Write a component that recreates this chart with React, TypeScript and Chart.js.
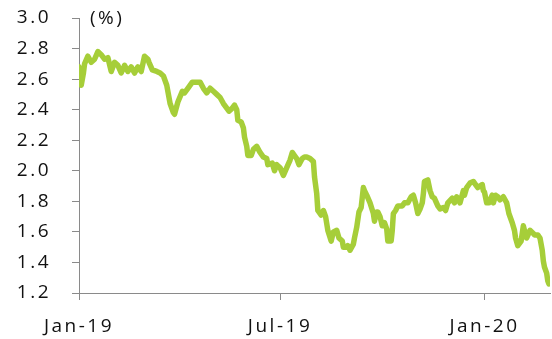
import { useEffect, useRef } from 'react';
import { Chart, registerables } from 'chart.js';

Chart.register(...registerables);

// Days counted from 1 Jan 2019 for each observation
const daysSinceStart = [
  0, 1, 2, 4, 5, 8, 11, 14, 17, 20, 23, 26, 29, 32, 35, 38, 41, 44, 47, 50,
  53, 56, 59, 62, 63, 66, 70, 73, 76, 79, 82, 85, 86, 89, 93, 95, 98, 102, 104, 109,
  112, 115, 118, 121, 124, 127, 130, 133, 135, 138, 140, 142, 143, 146, 148, 149, 151, 152, 155, 157,
  160, 163, 166, 169, 170, 174, 176, 178, 181, 184, 187, 190, 192, 194, 196, 198, 201, 203, 205, 208,
  211, 212, 214, 215, 218, 220, 222, 224, 227, 229, 232, 234, 237, 238, 241, 242, 244, 247, 248, 250,
  252, 254, 256, 257, 259, 262, 265, 266, 268, 269, 271, 273, 275, 277, 278, 281, 282, 283, 285, 287,
  291, 293, 296, 299, 301, 303, 305, 307, 309, 310, 311, 314, 316, 318, 320, 323, 325, 328, 330, 332,
  336, 338, 340, 343, 346, 347, 349, 352, 355, 357, 359, 363, 364, 365, 367, 369, 372, 373, 375, 377,
  379, 382, 385, 387, 390, 392, 393, 395, 398, 400, 401, 403, 406, 409, 410, 413, 415, 417, 418, 419,
  421, 422, 423,
];

// Yield, in percent
const yieldPct = [
  2.68, 2.66, 2.56, 2.64, 2.7, 2.75, 2.71, 2.73, 2.78, 2.76, 2.73, 2.74, 2.65, 2.71, 2.69, 2.64, 2.69, 2.65, 2.68, 2.64,
  2.68, 2.65, 2.75, 2.73, 2.71, 2.66, 2.65, 2.64, 2.62, 2.56, 2.44, 2.38, 2.37, 2.45, 2.52, 2.51, 2.54, 2.58, 2.58, 2.58,
  2.54, 2.51, 2.54, 2.52, 2.5, 2.48, 2.44, 2.41, 2.39, 2.41, 2.43, 2.4, 2.33, 2.32, 2.28, 2.22, 2.16, 2.1, 2.1, 2.14,
  2.16, 2.12, 2.09, 2.08, 2.04, 2.05, 2.0, 2.04, 2.02, 1.97, 2.02, 2.07, 2.12, 2.1, 2.08, 2.04, 2.08, 2.09, 2.09, 2.08,
  2.06, 1.96, 1.85, 1.74, 1.71, 1.74, 1.7, 1.61, 1.54, 1.6, 1.61, 1.56, 1.54, 1.5, 1.5, 1.51, 1.48, 1.52, 1.56, 1.63,
  1.73, 1.76, 1.89, 1.87, 1.84, 1.79, 1.72, 1.67, 1.73, 1.73, 1.7, 1.64, 1.66, 1.62, 1.54, 1.54, 1.61, 1.72, 1.74, 1.77,
  1.77, 1.79, 1.79, 1.83, 1.84, 1.79, 1.72, 1.75, 1.79, 1.85, 1.93, 1.94, 1.87, 1.83, 1.82, 1.77, 1.75, 1.76, 1.74, 1.79,
  1.82, 1.79, 1.83, 1.79, 1.87, 1.84, 1.89, 1.92, 1.93, 1.91, 1.89, 1.91, 1.87, 1.86, 1.79, 1.79, 1.84, 1.79, 1.84, 1.83,
  1.81, 1.83, 1.79, 1.72, 1.66, 1.61, 1.56, 1.51, 1.54, 1.64, 1.61, 1.56, 1.61, 1.59, 1.58, 1.58, 1.56, 1.48, 1.41, 1.37,
  1.33, 1.28, 1.26,
];

const xTickDays = [0, 181, 365];
const xTickLabels = ['Jan-19', 'Jul-19', 'Jan-20'];
const yMin = 1.2;
const yMax = 3.0;
const yStep = 0.2;
const unitLabel = '(%)';

const LINE_COLOR = '#a6ce39';
const AXIS_COLOR = '#8a8a8a';
const TEXT_COLOR = '#111111';
const FONT_FAMILY = "'Open Sans', 'Liberation Sans', sans-serif";
const FONT_SIZE = 19;
const LETTER_SPACING = '2.5px';

export default function App() {
  const canvasRef = useRef<HTMLCanvasElement>(null);

  useEffect(() => {
    const canvas = canvasRef.current;
    if (!canvas) return;

    const font = { family: FONT_FAMILY, size: FONT_SIZE };

    // Wider text tracking for all chart text, plus the unit caption at the top of the y axis
    const textPlugin = {
      id: 'textStyle',
      beforeDraw(chart: any) {
        chart.ctx.letterSpacing = LETTER_SPACING;
      },
      afterDraw(chart: any) {
        const ctx = chart.ctx as CanvasRenderingContext2D;
        ctx.save();
        ctx.font = `${FONT_SIZE}px ${FONT_FAMILY}`;
        ctx.fillStyle = TEXT_COLOR;
        ctx.textAlign = 'left';
        ctx.textBaseline = 'alphabetic';
        ctx.fillText(unitLabel, chart.chartArea.left + 11, 24);
        ctx.restore();
      },
    };

    const chart = new Chart(canvas, {
      type: 'line',
      data: {
        datasets: [
          {
            data: daysSinceStart.map((d, i) => ({ x: d, y: yieldPct[i] })),
            borderColor: LINE_COLOR,
            borderWidth: 5.5,
            pointRadius: 0,
            tension: 0,
            borderJoinStyle: 'round',
            borderCapStyle: 'round',
          },
        ],
      },
      options: {
        responsive: false,
        animation: false,
        events: [],
        layout: { padding: { top: 18, right: 2, left: 0, bottom: 0 } },
        plugins: { legend: { display: false }, tooltip: { enabled: false } },
        scales: {
          x: {
            type: 'linear',
            min: 0,
            max: 424,
            afterBuildTicks: (scale: any) => {
              scale.ticks = xTickDays.map((v) => ({ value: v }));
            },
            afterFit: (scale: any) => {
              scale.height = 46;
              scale.paddingLeft = 0;
              scale.paddingRight = 0;
            },
            ticks: {
              autoSkip: false,
              maxRotation: 0,
              minRotation: 0,
              padding: 15,
              color: TEXT_COLOR,
              font,
              callback: (_v: any, i: number) => xTickLabels[i] ?? '',
            },
            grid: { drawOnChartArea: false, drawTicks: true, tickLength: 7, color: AXIS_COLOR, lineWidth: 1 },
            border: { display: true, color: AXIS_COLOR, width: 1 },
          },
          y: {
            min: yMin,
            max: yMax,
            afterFit: (scale: any) => {
              scale.width = 79;
              scale.paddingTop = 0;
              scale.paddingBottom = 0;
            },
            ticks: {
              stepSize: yStep,
              padding: 21,
              color: TEXT_COLOR,
              font,
              callback: (v: any) => Number(v).toFixed(1),
            },
            grid: { drawOnChartArea: false, drawTicks: true, tickLength: 7, color: AXIS_COLOR, lineWidth: 1 },
            border: { display: true, color: AXIS_COLOR, width: 1 },
          },
        },
      },
      plugins: [textPlugin],
    });

    return () => chart.destroy();
  }, []);

  return (
    <div style={{ position: 'fixed', left: 0, top: 0, width: 552, height: 339, background: '#ffffff' }}>
      <canvas ref={canvasRef} width={552} height={339} style={{ display: 'block' }} />
    </div>
  );
}
